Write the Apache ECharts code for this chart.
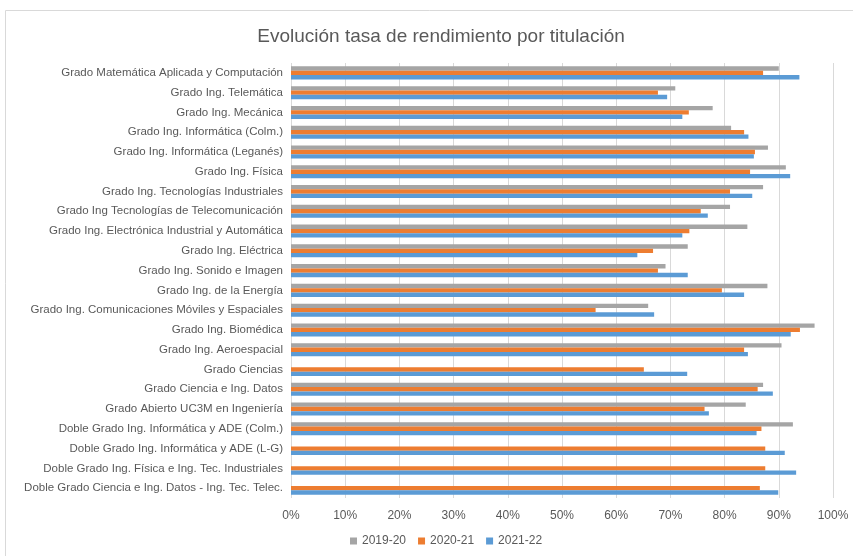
<!DOCTYPE html>
<html>
<head>
<meta charset="utf-8">
<script src="https://cdn.jsdelivr.net/npm/echarts@6/dist/echarts.min.js"></script>
<style>
  html, body { margin: 0; padding: 0; background: #fff; }
  #chart { width: 853px; height: 556px; }
</style>
</head>
<body>
<div id="chart"></div>
<script>
// titulaciones, de arriba a abajo
var titulaciones = [
  'Grado Matemática Aplicada y Computación',
  'Grado Ing. Telemática',
  'Grado Ing. Mecánica',
  'Grado Ing. Informática (Colm.)',
  'Grado Ing. Informática (Leganés)',
  'Grado Ing. Física',
  'Grado Ing. Tecnologías Industriales',
  'Grado Ing Tecnologías de Telecomunicación',
  'Grado Ing. Electrónica Industrial y Automática',
  'Grado Ing. Eléctrica',
  'Grado Ing. Sonido e Imagen',
  'Grado Ing. de la Energía',
  'Grado Ing. Comunicaciones Móviles y Espaciales',
  'Grado Ing. Biomédica',
  'Grado Ing. Aeroespacial',
  'Grado Ciencias',
  'Grado Ciencia e Ing. Datos',
  'Grado Abierto UC3M en Ingeniería',
  'Doble Grado Ing. Informática y ADE (Colm.)',
  'Doble Grado Ing. Informática y ADE (L-G)',
  'Doble Grado Ing. Física e Ing. Tec. Industriales',
  'Doble Grado Ciencia e Ing. Datos - Ing. Tec. Telec.'
];

var curso1920 = [90.0, 70.9, 77.8, 81.2, 88.0, 91.3, 87.1, 81.0, 84.2, 73.2, 69.1,
                 87.9, 65.9, 96.6, 90.5, null, 87.1, 83.9, 92.6, null, null, null];
var curso2021 = [87.1, 67.7, 73.4, 83.6, 85.6, 84.7, 81.0, 75.6, 73.5, 66.8, 67.7,
                 79.5, 56.2, 93.9, 83.6, 65.1, 86.1, 76.3, 86.8, 87.5, 87.5, 86.5];
var curso2122 = [93.8, 69.4, 72.2, 84.4, 85.4, 92.1, 85.1, 76.9, 72.2, 63.9, 73.2,
                 83.6, 67.0, 92.2, 84.3, 73.1, 88.9, 77.1, 85.9, 91.1, 93.2, 89.9];

var ticksX = [0, 10, 20, 30, 40, 50, 60, 70, 80, 90, 100];

var myChart = echarts.init(document.getElementById('chart'));
var fuente = 'Liberation Sans';

var serie = function (nombre, datos, color) {
  return {
    name: nombre,
    type: 'bar',
    data: datos,
    barGap: '0%',
    barCategoryGap: '34%',
    itemStyle: { color: color },
    emphasis: { disabled: true }
  };
};

var option = {
  animation: false,
  textStyle: { fontFamily: fuente },
  // marco del gráfico
  graphic: [{
    type: 'rect',
    shape: { x: 5.5, y: 10.5, width: 900, height: 600 },
    style: { fill: 'none', stroke: '#D9D9D9', lineWidth: 1 },
    silent: true
  }],
  title: {
    text: 'Evolución tasa de rendimiento por titulación',
    left: 436,
    top: 22,
    textAlign: 'center',
    textStyle: { fontFamily: fuente, fontSize: 19, fontWeight: 'normal', color: '#595959' }
  },
  grid: { left: 291, right: 20, top: 63, bottom: 58 },
  legend: {
    bottom: 4,
    left: 345,
    itemWidth: 7,
    itemHeight: 7,
    itemGap: 12,
    icon: 'rect',
    textStyle: { fontFamily: fuente, fontSize: 12, color: '#595959' },
    data: ['2019-20', '2020-21', '2021-22']
  },
  xAxis: {
    type: 'value',
    min: 0,
    max: 100,
    interval: 10,
    axisLine: { show: false },
    axisTick: { show: false },
    splitLine: { lineStyle: { color: '#D9D9D9' } },
    axisLabel: {
      color: '#595959', fontSize: 12, margin: 12,
      formatter: function (v) { return ticksX.indexOf(v) >= 0 ? v + '%' : ''; }
    }
  },
  yAxis: {
    type: 'category',
    inverse: true,
    data: titulaciones,
    axisLine: { show: false },
    axisTick: { show: false },
    axisLabel: { color: '#595959', fontSize: 11.5, margin: 8 }
  },
  series: [
    serie('2019-20', curso1920, '#A5A5A5'),
    serie('2020-21', curso2021, '#ED7D31'),
    serie('2021-22', curso2122, '#5B9BD5')
  ]
};
myChart.setOption(option);
</script>
</body>
</html>
